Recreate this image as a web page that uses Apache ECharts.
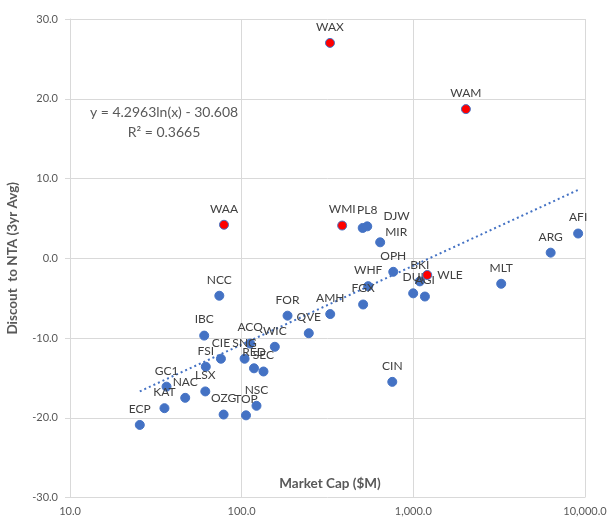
<!DOCTYPE html>
<html>
<head>
<meta charset="utf-8">
<script src="https://cdn.jsdelivr.net/npm/echarts@6/dist/echarts.min.js"></script>
<style>
  html, body { margin: 0; padding: 0; background: #fff; }
  #chart { width: 612px; height: 522px; }
</style>
</head>
<body>
<div id="chart"></div>
<script>
// ── Data ───────────────────────────────────────────────────────────────

const tickers = [
  "ECP", "KAT", "GC1", "NAC", "LSX", "FSI", "IBC", "CIE", "SNG", "ACQ",
  "RED", "SEC", "WIC", "OZG", "TOP", "NSC", "FOR", "NCC", "QVE", "AMH",
  "FGX", "WHF", "OPH", "MIR", "PL8", "DJW", "CIN", "BKI", "DUI", "AGI",
  "MLT", "ARG", "AFI", "WAA", "WMI", "WAX", "WAM", "WLE",
];
const marketCap = [
  25.5, 35.5, 36.5, 46.9, 61.4, 61.8, 60.5, 75.7, 104, 112,
  118, 134, 156, 78.5, 106, 122, 185, 74.1, 246, 328,
  510, 546, 764, 641, 539, 507, 754, 1091, 998, 1168,
  3250, 6310, 9120, 78.9, 385, 327, 2024, 1205,
];
const discount = [
  -20.9, -18.8, -16.1, -17.5, -16.7, -13.6, -9.7, -12.6, -12.6, -10.7,
  -13.8, -14.2, -11.1, -19.6, -19.7, -18.5, -7.2, -4.7, -9.4, -7.0,
  -5.8, -3.5, -1.7, 2.0, 4.0, 3.8, -15.5, -2.9, -4.4, -4.8,
  -3.2, 0.7, 3.1, 4.2, 4.1, 27.0, 18.7, -2.1,
];
// Wilson Asset Management funds, drawn in red
const highlighted = ["WAA", "WMI", "WAX", "WAM", "WLE"];

// logarithmic trendline, as printed on the chart
const trendSlope = 4.2963;
const trendIntercept = -30.608;
const trendText = ["y = 4.2963ln(x) - 30.608", "R\u00b2 = 0.3665"];

const yTicks = { min: -30, max: 30, step: 10 };
const xRange = { min: 10, max: 10000 };

// ── Styling ────────────────────────────────────────────────────────────

const FONT = "Lato, 'Liberation Sans', sans-serif";
const BLUE = "#4472C4";
const GRID = "#d9d9d9";

// a few labels were nudged by hand in the original
const labelTweaks = {
  WLE: { position: "right", distance: 5 },
  MIR: { offset: [16, 6] },
  DJW: { offset: [34, 4] },
};

// ── Build series ───────────────────────────────────────────────────────

function point(i) {
  const name = tickers[i];
  return {
    name,
    value: [marketCap[i], discount[i]],
    label: labelTweaks[name] || undefined,
  };
}

const points = tickers.map((_, i) => point(i));
const blueData = points.filter((p) => !highlighted.includes(p.name));
const redData = points.filter((p) => highlighted.includes(p.name));

const xLo = Math.min(...marketCap);
const xHi = Math.max(...marketCap);
const trendLine = [xLo, xHi].map((x) => [x, trendSlope * Math.log(x) + trendIntercept]);

const fmt1 = (v) =>
  Number(v).toLocaleString("en-US", { minimumFractionDigits: 1, maximumFractionDigits: 1 });

const labelStyle = {
  show: true,
  position: "top",
  distance: 5,
  formatter: (p) => p.name,
  fontSize: 12,
  fontFamily: FONT,
  color: "#404040",
};

const chart = echarts.init(document.getElementById("chart"), null, { renderer: "canvas" });

chart.setOption({
  animation: false,
  grid: { left: 70, right: 27, top: 19, bottom: 24.5, containLabel: false, outerBoundsMode: "none" },
  xAxis: {
    type: "log",
    logBase: 10,
    min: xRange.min,
    max: xRange.max,
    axisLine: { show: true, lineStyle: { color: GRID } },
    axisTick: { show: true, length: 5, lineStyle: { color: GRID } },
    minorTick: { show: false },
    axisLabel: { fontFamily: FONT, fontSize: 11, color: "#595959", margin: 8, formatter: fmt1 },
    splitLine: { show: true, lineStyle: { color: GRID } },
  },
  yAxis: {
    type: "value",
    min: yTicks.min,
    max: yTicks.max,
    interval: yTicks.step,
    name: "Discout  to NTA (3yr Avg)",
    nameLocation: "middle",
    nameGap: 50,
    nameRotate: 90,
    nameTextStyle: { fontFamily: FONT, fontSize: 13.5, fontWeight: "bold", color: "#595959" },
    axisLine: { show: true, lineStyle: { color: GRID } },
    axisTick: { show: true, length: 5, lineStyle: { color: GRID } },
    axisLabel: { fontFamily: FONT, fontSize: 11, color: "#595959", margin: 12, formatter: fmt1 },
    splitLine: { show: true, lineStyle: { color: GRID } },
  },
  series: [
    {
      type: "line",
      data: trendLine,
      symbol: "none",
      silent: true,
      lineStyle: { color: BLUE, width: 2, type: [2, 3] },
      z: 1,
    },
    {
      type: "scatter",
      data: blueData,
      symbolSize: 9,
      itemStyle: { color: BLUE, borderColor: BLUE, borderWidth: 1, opacity: 1 },
      label: labelStyle,
      z: 2,
    },
    {
      type: "scatter",
      data: redData,
      symbolSize: 9,
      itemStyle: { color: "#FF0000", borderColor: BLUE, borderWidth: 1, opacity: 1 },
      label: labelStyle,
      z: 3,
    },
  ],
  graphic: [
    ...trendText.map((t, i) => ({
      type: "text",
      x: 164,
      y: 112 + i * 20,
      style: {
        text: t, fontFamily: FONT, fontSize: 14, fill: "#595959",
        align: "center", verticalAlign: "middle",
      },
    })),
    {
      // x axis title sits just inside the plot, as in the original
      type: "text",
      x: 330,
      y: 484,
      style: {
        text: "Market Cap ($M)", fontFamily: FONT, fontSize: 13.5, fontWeight: "bold",
        fill: "#595959", align: "center", verticalAlign: "middle",
      },
    },
  ],
});
</script>
</body>
</html>
